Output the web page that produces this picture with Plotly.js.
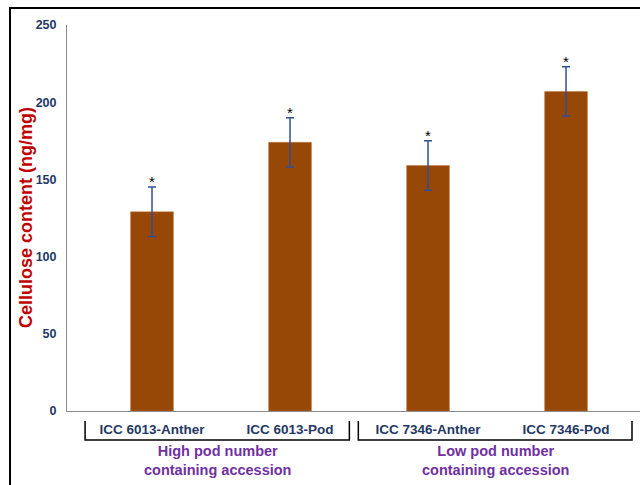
<!DOCTYPE html>
<html>
<head>
<meta charset="utf-8">
<script src="https://cdn.plot.ly/plotly-3.0.1.min.js"></script>
<style>html,body{margin:0;padding:0;background:#fff;}#chart{width:640px;height:485px;}</style>
</head>
<body>
<div id="chart"></div>
<script>
var categories = ["ICC 6013-Anther", "ICC 6013-Pod", "ICC 7346-Anther", "ICC 7346-Pod"];
var values = [129, 174, 159, 207];
var errors = [16, 16, 16, 16];
var yTicks = [0, 50, 100, 150, 200, 250];
var groupLabels = ["High pod number<br>containing accession", "Low pod number<br>containing accession"];
var groupStart = [-0.485, 1.495];
var groupEnd = [1.43, 3.478];

var px2paperY = function (py) { return (411 - py) / 386; };
var fam = "Liberation Sans, Arial, sans-serif";

var trace = {
  type: "bar",
  x: categories.map(function (c, i) { return i; }),
  y: values,
  width: 0.31,
  marker: { color: "#974706", line: { color: "#C0753A", width: 0.5 } },
  error_y: { type: "data", array: errors, visible: true, color: "#2F4F95", thickness: 1.5, width: 4 },
  hoverinfo: "none"
};

var annotations = [];
values.forEach(function (v, i) {
  annotations.push({
    x: i, y: v + errors[i], xref: "x", yref: "y", text: "*", showarrow: false,
    yanchor: "bottom", yshift: -5, font: { family: fam, size: 15, color: "#000" }
  });
});
groupLabels.forEach(function (g, i) {
  annotations.push({
    x: (groupStart[i] + groupEnd[i]) / 2, y: px2paperY(460), xref: "x", yref: "paper",
    text: "<b>" + g + "</b>", showarrow: false, yanchor: "middle",
    font: { family: fam, size: 14.5, color: "#7030A0" }
  });
});
annotations.push({
  x: (26 - 67) / 573, y: 0.5, xref: "paper", yref: "paper", textangle: -90,
  text: "<b>Cellulose content (ng/mg)</b>", showarrow: false, xanchor: "center", yanchor: "middle",
  font: { family: fam, size: 18, color: "#C00000" }
});

var shapes = [];
groupStart.forEach(function (s, i) {
  shapes.push({
    type: "path", xref: "x", yref: "paper",
    path: "M " + s + " " + px2paperY(421) + " L " + s + " " + px2paperY(440) + " L " + groupEnd[i] + " " + px2paperY(440) + " L " + groupEnd[i] + " " + px2paperY(421),
    line: { color: "#000", width: 1.5 }
  });
});
shapes.push({
  type: "rect", xref: "paper", yref: "paper",
  x0: (10 - 67) / 573, x1: 1.3, y0: -0.4, y1: px2paperY(8),
  line: { color: "#000", width: 2 }, fillcolor: "rgba(0,0,0,0)"
});

var layout = {
  width: 640, height: 485,
  margin: { l: 67, r: 0, t: 25, b: 74 },
  paper_bgcolor: "#fff", plot_bgcolor: "#fff",
  showlegend: false,
  xaxis: {
    range: [-0.616, 3.536], tickmode: "array",
    tickvals: categories.map(function (c, i) { return i; }),
    ticktext: categories.map(function (c) { return "<b>" + c + "</b>"; }),
    showline: true, linecolor: "#8c8c8c", linewidth: 1, showgrid: false, zeroline: false,
    ticks: "", ticklabelstandoff: 6,
    tickfont: { family: fam, size: 13.5, color: "#1F3864" }
  },
  yaxis: {
    range: [0, 250], tickmode: "array", tickvals: yTicks,
    ticktext: yTicks.map(function (t) { return "<b>" + t + "</b>"; }),
    showline: true, linecolor: "#8c8c8c", linewidth: 1,
    showgrid: false, zeroline: false, ticks: "", ticklabelstandoff: 7,
    tickfont: { family: fam, size: 12.5, color: "#1F3864" }
  },
  annotations: annotations,
  shapes: shapes
};

Plotly.newPlot("chart", [trace], layout, { displayModeBar: false, staticPlot: true });
</script>
</body>
</html>
